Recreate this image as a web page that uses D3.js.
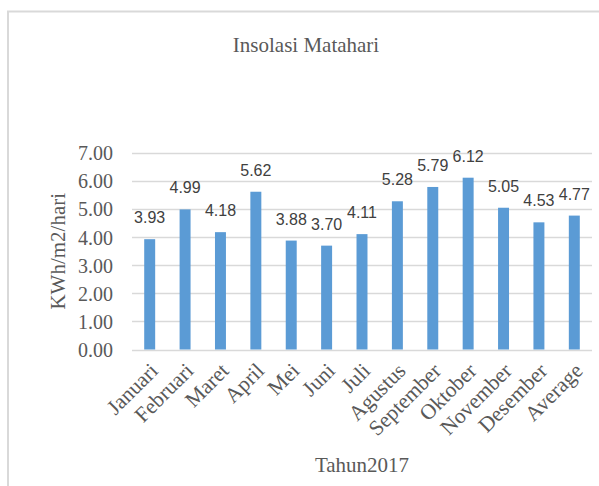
<!DOCTYPE html>
<html lang="en">
<head>
  <meta charset="UTF-8">
  <title>Insolasi Matahari</title>
  <script src="https://d3js.org/d3.v7.min.js"></script>
  <style>
    body {
      margin: 0;
      background-color: #ffffff;
    }
    svg {
      display: block;
    }
  </style>
</head>
<body>
  <div id="chart"></div>

  <script>
    const months = ["Januari", "Februari", "Maret", "April", "Mei", "Juni", "Juli",
                    "Agustus", "September", "Oktober", "November", "Desember", "Average"];
    const insolation = [3.93, 4.99, 4.18, 5.62, 3.88, 3.70, 4.11, 5.28, 5.79, 6.12, 5.05, 4.53, 4.77];
    const yTicks = [0, 1, 2, 3, 4, 5, 6, 7];

    const width = 599, height = 486;
    const margin = { top: 153, right: 7, bottom: 136, left: 132 };
    const serif = "'Liberation Serif', 'Times New Roman', serif";
    const textColor = "#595959";

    const svg = d3.select("#chart").append("svg").attr("width", width).attr("height", height);

    // chart area frame (cropped at right/bottom)
    svg.append("path")
      .attr("d", `M8,${height} V11.5 H${width}`)
      .attr("fill", "none")
      .attr("stroke", "#d9d9d9")
      .attr("stroke-width", 2);

    const x = d3.scaleBand().domain(months).range([margin.left, width - margin.right]).paddingInner(0.69).paddingOuter(0.345);
    const y = d3.scaleLinear().domain([0, 7]).range([height - margin.bottom - 0.5, margin.top]);

    // gridlines
    svg.append("g")
      .selectAll("line")
      .data(yTicks)
      .join("line")
      .attr("x1", margin.left)
      .attr("x2", width - margin.right)
      .attr("y1", d => Math.round(y(d)) + 0.5)
      .attr("y2", d => Math.round(y(d)) + 0.5)
      .attr("stroke", "#d9d9d9")
      .attr("stroke-width", 1.3);

    // y axis labels
    const yAxis = svg.append("g")
      .attr("transform", `translate(${margin.left - 19},0)`)
      .call(d3.axisLeft(y).tickValues(yTicks).tickFormat(d3.format(".2f")).tickSize(0).tickPadding(0));
    yAxis.select(".domain").remove();
    yAxis.selectAll("text")
      .attr("font-family", serif)
      .attr("font-size", 20)
      .attr("fill", textColor)
      .attr("dy", "0.34em");

    // bars
    svg.append("g")
      .selectAll("rect")
      .data(insolation)
      .join("rect")
      .attr("x", (d, i) => x(months[i]))
      .attr("y", d => y(d))
      .attr("width", x.bandwidth())
      .attr("height", d => y(0) - y(d))
      .attr("fill", "#5b9bd5");

    // data labels
    svg.append("g")
      .selectAll("text")
      .data(insolation)
      .join("text")
      .attr("x", (d, i) => x(months[i]) + x.bandwidth() / 2)
      .attr("y", d => y(d) - 16)
      .attr("text-anchor", "middle")
      .attr("font-family", "'Liberation Sans', Arial, sans-serif")
      .attr("font-size", 16)
      .attr("fill", "#404040")
      .text(d => d.toFixed(2));

    // category labels
    svg.append("g")
      .selectAll("text")
      .data(months)
      .join("text")
      .attr("transform", d => `translate(${x(d) + x.bandwidth() / 2 + 2},${y(0) + 15}) rotate(-45)`)
      .attr("text-anchor", "end")
      .attr("dy", "0.5em")
      .attr("font-family", serif)
      .attr("font-size", 21.5)
      .attr("fill", textColor)
      .text(d => d);

    // titles
    svg.append("text")
      .attr("x", 306)
      .attr("y", 52)
      .attr("text-anchor", "middle")
      .attr("font-family", serif)
      .attr("font-size", 21)
      .attr("fill", textColor)
      .text("Insolasi Matahari");

    svg.append("text")
      .attr("transform", `translate(65,${(y(0) + y(7)) / 2}) rotate(-90)`)
      .attr("text-anchor", "middle")
      .attr("font-family", serif)
      .attr("font-size", 21)
      .attr("fill", textColor)
      .text("KWh/m2/hari");

    svg.append("text")
      .attr("x", (margin.left + width - margin.right) / 2)
      .attr("y", 472)
      .attr("text-anchor", "middle")
      .attr("font-family", serif)
      .attr("font-size", 21)
      .attr("fill", textColor)
      .text("Tahun2017");
  </script>
</body>
</html>
